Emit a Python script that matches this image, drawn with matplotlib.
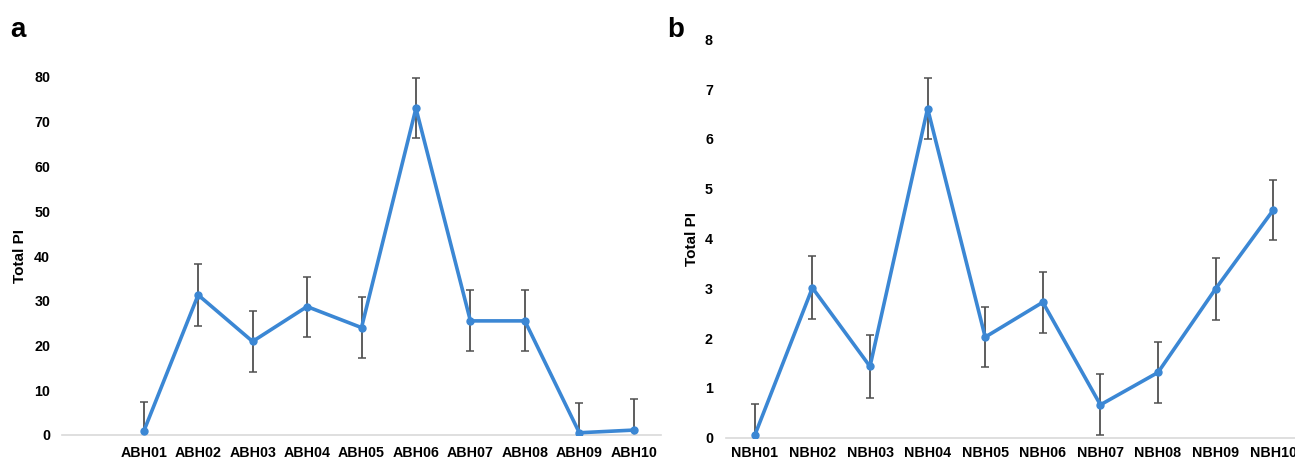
import numpy as np
import matplotlib.pyplot as plt

plt.rcParams['font.family'] = ['Liberation Sans', 'DejaVu Sans']
plt.rcParams['font.weight'] = 'bold'

# Panel a: ABH sites
abh_sites = ['ABH01', 'ABH02', 'ABH03', 'ABH04', 'ABH05',
             'ABH06', 'ABH07', 'ABH08', 'ABH09', 'ABH10']
abh_pi = [0.8, 31.3, 20.9, 28.7, 24.0, 73.0, 25.5, 25.5, 0.5, 1.1]
abh_err = [6.6, 6.9, 6.9, 6.7, 6.9, 6.7, 6.8, 6.8, 6.7, 6.9]
abh_yticks = [0, 10, 20, 30, 40, 50, 60, 70, 80]

# Panel b: NBH sites
nbh_sites = ['NBH01', 'NBH02', 'NBH03', 'NBH04', 'NBH05',
             'NBH06', 'NBH07', 'NBH08', 'NBH09', 'NBH10']
nbh_pi = [0.05, 3.01, 1.43, 6.61, 2.02, 2.72, 0.66, 1.31, 2.99, 4.57]
nbh_err = [0.63, 0.63, 0.63, 0.61, 0.61, 0.61, 0.61, 0.61, 0.62, 0.61]
nbh_yticks = [0, 1, 2, 3, 4, 5, 6, 7, 8]

line_color = '#3b87d4'
err_color = '#505050'

W, H = 1295, 459
fig = plt.figure(figsize=(W / 100, H / 100), dpi=100)


def px_axes(left, right, bottom, top):
    # axes box given in pixel coordinates (y measured from the top)
    return fig.add_axes([left / W, (H - bottom) / H,
                         (right - left) / W, (bottom - top) / H])


def draw_panel(ax, sites, values, errs, yticks, xlim, xpad, ypad, label_pad):
    x = np.arange(len(sites))
    ax.errorbar(x, values, yerr=errs, fmt='none', ecolor=err_color,
                elinewidth=1.3, capsize=3.2, capthick=1.1, zorder=2)
    ax.plot(x, values, color=line_color, lw=2.6, marker='o', ms=5,
            zorder=3)
    ax.set_xlim(*xlim)
    ax.set_ylim(yticks[0], yticks[-1])
    ax.set_yticks(yticks)
    ax.set_xticks(x)
    ax.set_xticklabels(sites)
    for s in ['top', 'right', 'left']:
        ax.spines[s].set_visible(False)
    ax.spines['bottom'].set_color('#d9d9d9')
    ax.spines['bottom'].set_linewidth(1.2)
    ax.tick_params(length=0, labelsize=10.3, colors='black')
    ax.tick_params(axis='x', pad=xpad)
    ax.tick_params(axis='y', pad=ypad)
    ax.set_ylabel('Total PI', fontsize=11, fontweight='bold',
                  labelpad=label_pad)


ax_a = px_axes(62, 661, 435, 77)
draw_panel(ax_a, abh_sites, abh_pi, abh_err, abh_yticks, (-1.5, 9.5),
           xpad=8, ypad=8.5, label_pad=5)

ax_b = px_axes(726, 1302, 437.7, 39.3)
draw_panel(ax_b, nbh_sites, nbh_pi, nbh_err, nbh_yticks, (-0.5, 9.5),
           xpad=6, ypad=9.4, label_pad=4)

fig.text(10 / W, 1 - 30 / H, 'a', fontsize=20, fontweight='bold',
         va='center', ha='left')
fig.text(667 / W, 1 - 30 / H, 'b', fontsize=20, fontweight='bold',
         va='center', ha='left')

fig.savefig('out.png', dpi=100)
